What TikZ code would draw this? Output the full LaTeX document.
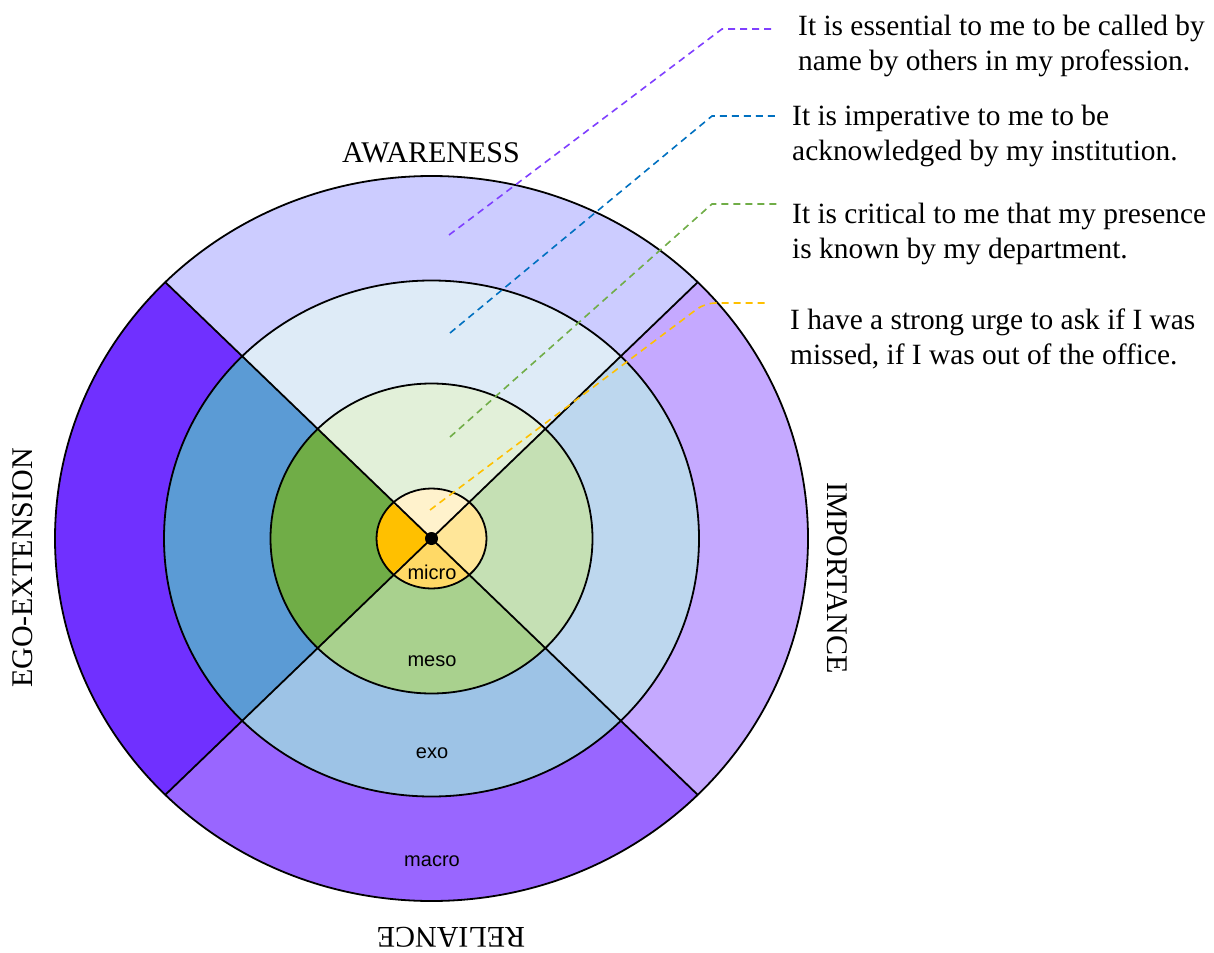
\documentclass[tikz,border=0pt]{standalone}
\usepackage{fontspec}
\setmainfont{Liberation Serif}
\newfontfamily\arialf{Liberation Sans}
\definecolor{oT}{HTML}{CCCCFF}
\definecolor{oL}{HTML}{7030FF}
\definecolor{oR}{HTML}{C5A9FF}
\definecolor{oB}{HTML}{9966FF}
\definecolor{eT}{HTML}{DEEBF7}
\definecolor{eL}{HTML}{5B9BD5}
\definecolor{eR}{HTML}{BDD7EE}
\definecolor{eB}{HTML}{9DC3E6}
\definecolor{mT}{HTML}{E2F0D9}
\definecolor{mL}{HTML}{70AD47}
\definecolor{mR}{HTML}{C5E0B4}
\definecolor{mB}{HTML}{A9D18E}
\definecolor{iT}{HTML}{FFF2CC}
\definecolor{iL}{HTML}{FFC000}
\definecolor{iR}{HTML}{FFE699}
\definecolor{iB}{HTML}{FFD966}
\definecolor{lPurp}{HTML}{7F3FFF}
\definecolor{lBlue}{HTML}{0070C0}
\definecolor{lGreen}{HTML}{70AD47}
\definecolor{lYel}{HTML}{FFC000}
\newcommand\pieslice[5]{\fill[#5] (c) -- ++(#1:#3 and #4) arc[start angle=#1,end angle=#2,x radius=#3,y radius=#4] -- cycle;}
\newcommand\fourslices[6]{%
  \pieslice{45}{135}{#1}{#2}{#3}
  \pieslice{135}{225}{#1}{#2}{#4}
  \pieslice{225}{315}{#1}{#2}{#5}
  \pieslice{-45}{45}{#1}{#2}{#6}}
\begin{document}
\begin{tikzpicture}[x=1pt,y=1pt,
  ring/.style={draw=black,line width=1.8pt},
  lead/.style={dash pattern=on 7pt off 5pt,line width=1.6pt},
  lbl/.style={font=\arialf\fontsize{20}{24}\selectfont,inner sep=0pt},
  title/.style={font=\fontsize{30}{36}\selectfont,inner sep=0pt},
  quote/.style={font=\fontsize{29.4}{35}\selectfont,align=left,anchor=west,inner sep=0pt}]
\useasboundingbox (0,0) rectangle (1214,-952);
\coordinate (c) at (431.5,-538.5);
% sectors
\fourslices{376.5}{362.5}{oT}{oL}{oB}{oR}
\fourslices{267.5}{258}{eT}{eL}{eB}{eR}
\fourslices{161}{155}{mT}{mL}{mB}{mR}
\fourslices{55}{50}{iT}{iL}{iB}{iR}
% outlines
\draw[ring] (c) ellipse[x radius=376.5,y radius=362.5];
\draw[ring] (c) ellipse[x radius=267.5,y radius=258];
\draw[ring] (c) ellipse[x radius=161,y radius=155];
\draw[ring] (c) ellipse[x radius=55,y radius=50];
\foreach \a in {45,135,225,315}{\draw[ring] (c) -- ++(\a:376.5 and 362.5);}
\fill[black] (c) circle[radius=6.5];
% ring labels
\node[lbl,anchor=base] (micro) at (432,-579) {micro};
\node[lbl,anchor=base] (meso) at (432,-666) {meso};
\node[lbl,anchor=base] (exo) at (432,-758) {exo};
\node[lbl,anchor=base] (macro) at (432,-866) {macro};
% titles
\node[title,anchor=base] (aw) at (431,-163) {AWARENESS};
\node[title,rotate=-90] (imp) at (837,-578) {IMPORTANCE};
\node[title,rotate=180] (rel) at (451,-937) {RELIANCE};
\node[title,rotate=90] (ego) at (23,-568) {EGO-EXTENSION};
% quotes
\node[quote] (q1) at (798,-45.5) {It is essential to me to be called by\\name by others in my profession.};
\node[quote] (q2) at (792,-136) {It is imperative to me to be\\acknowledged by my institution.};
\node[quote] (q3) at (792,-233.5) {It is critical to me that my presence\\is known by my department.};
\node[quote] (q4) at (790,-338.5) {I have a strong urge to ask if I was\\missed, if I was out of the office.};
% leaders
\coordinate (p1s) at (449,-235); \coordinate (p1k) at (722,-29); \coordinate (p1e) at (775,-29);
\coordinate (p2s) at (450,-333); \coordinate (p2k) at (712,-116); \coordinate (p2e) at (777,-116);
\coordinate (p3s) at (450,-437); \coordinate (p3k) at (712,-204); \coordinate (p3e) at (777,-204);
\coordinate (p4s) at (430,-510); \coordinate (p4k) at (705,-303); \coordinate (p4e) at (767,-303);
\draw[lead,lPurp] (p1s) -- (p1k) -- (p1e);
\draw[lead,lBlue] (p2s) -- (p2k) -- (p2e);
\draw[lead,lGreen] (p3s) -- (p3k) -- (p3e);
\draw[lead,lYel,rounded corners=10pt] (p4s) -- (p4k) -- (p4e);
\end{tikzpicture}
\end{document}
